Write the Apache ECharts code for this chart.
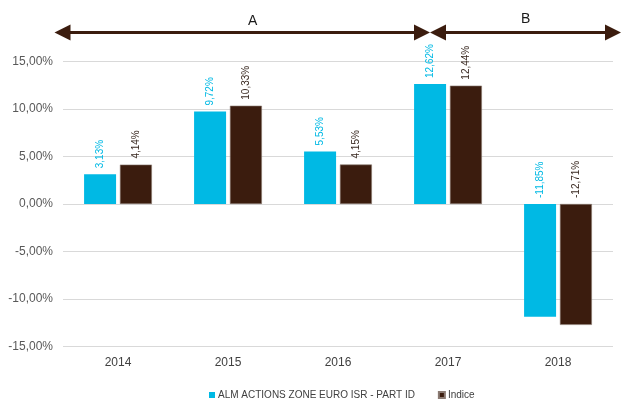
<!DOCTYPE html>
<html><head><meta charset="utf-8">
<script src="https://cdn.jsdelivr.net/npm/echarts@6/dist/echarts.min.js"></script>
<style>html,body{margin:0;padding:0;background:#fff}#c{width:621px;height:400px}</style>
</head><body><div id="c"></div>
<script>
const categories = ['2014','2015','2016','2017','2018'];
const fundName = 'ALM ACTIONS ZONE EURO ISR - PART ID';
const indexName = 'Indice';
const fundValues = [3.13, 9.72, 5.53, 12.62, -11.85];
const indexValues = [4.14, 10.33, 4.15, 12.44, -12.71];
const yTicks = [-15, -10, -5, 0, 5, 10, 15];

const BLUE = '#00B9E4', BROWN = '#3B1C0E';
const FONT = '"Liberation Sans", Arial, sans-serif';
const fmt = v => v.toFixed(2).replace('.', ',') + '%';

const chart = echarts.init(document.getElementById('c'), null, {renderer: 'canvas'});

function arrow(x1, x2, y) {
  const h = 16, hh = 8;
  return [
    {type: 'line', shape: {x1: x1 + h - 1, y1: y, x2: x2 - h + 1, y2: y}, style: {stroke: BROWN, lineWidth: 3}},
    {type: 'polygon', shape: {points: [[x1, y], [x1 + h, y - hh], [x1 + h, y + hh]]}, style: {fill: BROWN}},
    {type: 'polygon', shape: {points: [[x2, y], [x2 - h, y - hh], [x2 - h, y + hh]]}, style: {fill: BROWN}}
  ];
}

const lbl = (color) => ({
  show: true, position: 'top', rotate: 90, align: 'left', verticalAlign: 'middle',
  distance: 6, fontSize: 10, fontFamily: FONT, color: color,
  formatter: p => fmt(p.value)
});

chart.setOption({
  animation: false,
  textStyle: {fontFamily: FONT},
  grid: {left: 63, right: 8, top: 61.3, bottom: 53.3, containLabel: false},
  legend: {
    left: 204, top: 385, padding: 5, itemWidth: 6, itemHeight: 6, itemGap: 23, icon: 'rect',
    textStyle: {fontSize: 10, color: '#404040', fontFamily: FONT, padding: [0, 0, 0, -2]},
    data: [fundName, indexName]
  },
  xAxis: {
    type: 'category', data: categories,
    axisLine: {show: false, onZero: false}, axisTick: {show: false},
    axisLabel: {fontSize: 12, color: '#404040', margin: 10, fontFamily: FONT}
  },
  yAxis: {
    type: 'value', min: -15, max: 15, interval: 5,
    axisLine: {show: false}, axisTick: {show: false},
    splitLine: {lineStyle: {color: '#d9d9d9', width: 1}},
    axisLabel: {fontSize: 12, color: '#595959', margin: 10, fontFamily: FONT,
      formatter: v => yTicks.includes(v) ? fmt(v) : ''}
  },
  series: [
    {name: fundName, type: 'bar', data: fundValues, barWidth: 32, barGap: '12%',
     itemStyle: {color: BLUE}, label: lbl(BLUE)},
    {name: indexName, type: 'bar', data: indexValues, barWidth: 32,
     itemStyle: {color: BROWN, borderColor: '#8a7a72', borderWidth: 0.6}, label: lbl('#3a2a22')}
  ],
  graphic: [
    ...arrow(54.5, 430, 32.5),
    ...arrow(430, 621, 32.5),
    {type: 'text', left: 248, top: 14, style: {text: 'A', fontSize: 14, fill: '#1a1a1a', fontFamily: FONT}},
    {type: 'text', left: 521, top: 12, style: {text: 'B', fontSize: 14, fill: '#1a1a1a', fontFamily: FONT}}
  ]
});
</script>
</body></html>
